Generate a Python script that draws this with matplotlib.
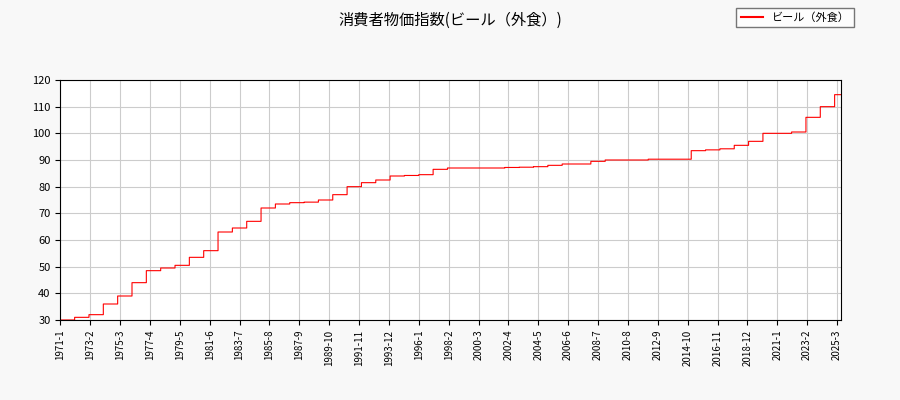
import matplotlib
matplotlib.use('Agg')
import matplotlib.pyplot as plt
import numpy as np

plt.rcParams['font.family'] = ['Noto Sans CJK JP', 'DejaVu Sans']

# 年ごとの指数（目視で読み取り）
years = list(range(1971, 2026))
values = [30, 31, 32, 36, 39, 44, 48.5, 49.5, 50.5, 53.5,
          56, 63, 64.5, 67, 72, 73.5, 74, 74.2, 75, 77,
          80, 81.5, 82.5, 84, 84.2, 84.5, 86.5, 87, 87, 87,
          87, 87.2, 87.3, 87.5, 88, 88.5, 88.5, 89.5, 90, 90,
          90, 90.3, 90.3, 90.3, 93.5, 93.8, 94.2, 95.5, 97, 100,
          100, 100.5, 106, 110, 114.5]
months_last_year = 6

serie = []
labels = []
for i, y in enumerate(years):
    n = months_last_year if y == years[-1] else 12
    for m in range(1, n + 1):
        serie.append(values[i])
        labels.append(f"{y}-{m}")

fig = plt.figure(figsize=(9, 4), dpi=100, facecolor='#f8f8f8')
ax = fig.add_axes([0.067, 0.2, 0.867, 0.6])
ax.step(range(len(serie)), serie, where='post', color='red', lw=0.8, label='ビール（外食）')
ax.set_ylim(30, 120)
ax.set_yticks(range(30, 121, 10))
ax.set_xlim(0, len(serie) - 1)
ticks = list(range(0, len(serie), 25))
ax.set_xticks(ticks)
ax.set_xticklabels([labels[t] for t in ticks], rotation=90, fontsize=7)
ax.tick_params(axis='y', labelsize=8)
ax.grid(True, color='#cccccc', lw=0.8)
fig.suptitle('消費者物価指数(ビール（外食）)', y=0.97, fontsize=11)
leg = fig.legend(loc='upper right', bbox_to_anchor=(0.955, 0.995), fontsize=8,
                 fancybox=False, edgecolor='#555555')
for h in leg.get_lines():
    h.set_linewidth(1.5)
fig.savefig('out.png', facecolor=fig.get_facecolor())
